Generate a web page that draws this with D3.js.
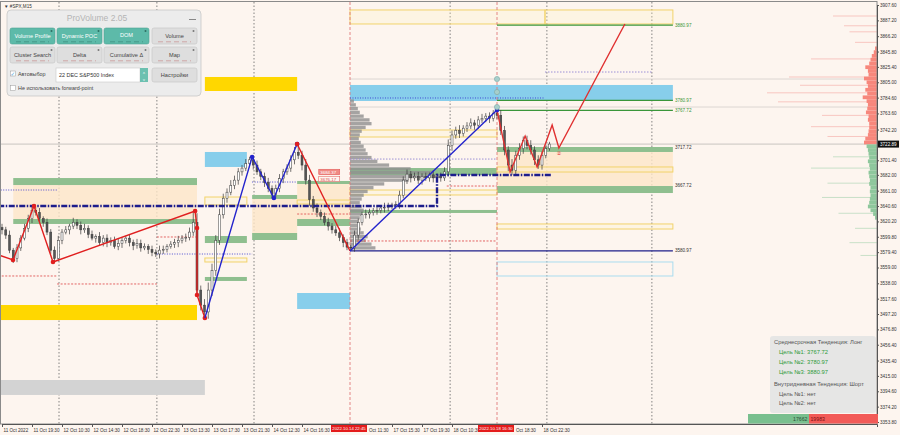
<!DOCTYPE html>
<html>
<head>
<meta charset="utf-8">
<script src="https://cdn.jsdelivr.net/npm/d3@7"></script>
<style>
  body { margin: 0; background: #fdf5ef; }
  svg { display: block; font-family: "Liberation Sans", "DejaVu Sans", sans-serif; }
</style>
</head>
<body>
<svg id="chart" width="900" height="435"></svg>
<script>
// ---- data (time in 30-min bars from 11 Oct 2022 15:30, prices in index points) ----
const closes = [
  3609,3602,3582,3571,3585,3598,3611,3624,3635,3632,
  3624,3619,3606,3582,3571,3595,3606,3609,3614,3619,
  3615,3609,3611,3603,3598,3600,3592,3598,3592,3595,
  3587,3591,3595,3598,3592,3588,3591,3585,3587,3583,
  3579,3577,3582,3583,3587,3590,3592,3595,3598,3599,
  3606,3619,3529,3509,3500,3529,3555,3595,3629,3651,
  3659,3668,3675,3686,3691,3697,3702,3695,3686,3680,
  3672,3664,3656,3664,3677,3686,3691,3702,3712,3708,
  3695,3675,3649,3638,3632,3627,3619,3614,3609,3605,
  3599,3592,3586,3585,3602,3619,3629,3630,3632,3634,
  3635,3638,3639,3640,3642,3643,3655,3675,3683,3678,
  3680,3675,3680,3678,3682,3678,3680,3678,3686,3721,
  3735,3741,3737,3744,3747,3751,3748,3755,3757,3760,
  3757,3764,3761,3741,3715,3695,3688,3708,3717,3728,
  3721,3715,3702,3695,3708,3717,3722.89
];
const wickHi = [
  5,4,6,3,5,4,6,5,5,4, 6,3,5,4,5,6,4,5,3,6, 4,5,6,4,5,3,6,4,5,4,
  5,6,4,3,5,4,6,5,4,3, 5,4,6,5,3,4,5,6,4,5, 6,15,12,6,8,10,9,7,8,6,
  5,7,6,5,4,6,4,5,6,4, 5,6,4,5,6,4,5,6,7,11, 6,8,7,5,6,4,5,6,4,5,
  6,4,5,3,6,5,4,6,5,4, 5,4,6,5,3,4,6,5,6,4, 5,6,4,5,3,6,4,5,6,8,
  6,5,7,4,5,6,4,5,6,4, 5,4,4,7,6,5,8,6,7,5, 6,7,5,6,5,4,3
];
const wickLo = [
  6,5,4,6,5,4,3,5,6,4, 5,6,4,5,6,4,5,3,6,4, 5,6,4,5,3,6,4,5,6,4,
  3,5,6,4,5,6,4,5,3,6, 5,4,6,5,4,3,5,6,4,5, 4,5,8,7,8,9,8,7,6,5,
  6,4,5,6,5,4,5,6,4,5, 6,5,5,4,5,6,4,5,6,5, 7,6,8,5,6,5,4,6,5,4,
  5,6,4,4,5,6,4,5,6,4, 5,4,6,5,4,5,6,4,5,6, 4,5,6,4,5,6,4,5,4,6,
  7,5,6,4,5,4,6,5,4,5, 6,4,5,6,7,8,6,5,6,7, 5,6,7,5,6,4,3
];
const currentPrice = 3722.89;

// ticks hidden under the red time markers carry no text; partly hidden ones keep the visible part
const xTickBars = [0,8,16,24,32,40,48,56,64,72,80,88,96,104,112,120,128,136,144];
const xTickLabels = ["11 Oct 2022","11 Oct 19:30","12 Oct 10:30","12 Oct 14:30","12 Oct 18:30",
  "12 Oct 22:30","13 Oct 13:30","13 Oct 17:30","13 Oct 21:30","14 Oct 12:30","14 Oct 16:30",
  "","Oct 11:30","17 Oct 15:30","17 Oct 19:30","18 Oct 10:30","",
  "Oct 18:30","18 Oct 22:30"];
const yTicks = [3907.60,3887.20,3866.20,3845.80,3825.40,3805.00,3784.60,3763.60,3742.20,
  3701.40,3682.00,3661.00,3640.60,3620.20,3599.80,3579.40,3559.00,3538.00,3517.60,3497.20,
  3476.80,3456.40,3435.40,3415.00,3394.60,3374.20,3353.80];

const markerBars = [92.8, 132];
const markerLabels = ["2022.10.14 22:45", "2022.10.18 16:30"];
const daySeparators = [15.2, 41.3, 67.2, 119.5, 145.3, 173.3];

// zones: [fromBar, toBar, topPrice, bottomPrice]
const greenZones = [
  [3,52,3677.8,3668.5],[3,52,3623.4,3616.8],[54.1,65.3,3600.8,3591.5],[54.1,65.3,3546.4,3541.1],
  [66.7,78.7,3655.3,3650],[66.7,78.7,3604.8,3595.5],[78.7,92.8,3673.9,3669.9],[78.7,92.8,3623.4,3614.1],
  [92.8,132,3691.1,3681.8],[92.8,132,3635.4,3631.4],[132,178.9,3719,3712.4],[132,178.9,3667.2,3657.9]
];
const beigeZones = [
  [3,52,3668.5,3623.4],[66.7,78.7,3650,3604.8],[78.7,92.8,3669.9,3623.4],[132,178.9,3712.4,3667.2]
];
const yellowBoxes = [
  [54.1,65.3,3652.6,3642],[54.1,65.3,3571.6,3566.3],[78.7,92.8,3648.6,3643.3],
  [92.8,132,3741.6,3732.3],[92.8,132,3661.9,3655.3],[132,178.9,3692.5,3685.8],
  [132,178.9,3616.8,3610.1],[92.8,144.8,3901,3882.4],[144.8,178.9,3901,3882.4]
];
const goldZones = [[54.1,78.7,3812,3793.4],[-1,52,3509.2,3489.2]];
const skyZones = [[54.1,65.3,3712.4,3692.5],[78.7,92.8,3525.1,3503.9],[92.8,178.9,3801.4,3780.1]];
const grayZones = [[-1,54.1,3409.6,3389.7]];
const skyBoxes = [[132,178.9,3566.3,3547.7]];

const targetLevels = [3880.97, 3780.97, 3767.72];
const zoneLevels = [3717.72, 3667.72, 3580.97];

// [fromBar, toBar, price]
const redDashed = [[-1,14.7,3547.7],[14.7,41.3,3537.1],[41.3,52,3599.5],[78.7,92.8,3630],
  [92.8,132,3594.2],[118.6,132,3667.2]];
const blueDotted = [[-1,14.7,3661.9],[41.3,66.7,3576.9],[66.7,78.7,3672.5],[92.8,144.8,3784.1]];
const purpleDotted = [[144.8,173.3,3818.6],[92.8,132,3703]];
const grayLevels = [[92.8,233.3,3809.3],[92.8,233.3,3772.1]];
const trendLine = [[-1,3640.7],[116,3640.7],[116,3681.8],[146.4,3681.8]];

const redZig = [[-0.5,3575],[2.93,3569],[8.53,3640.7],[13.6,3566.3],[51.5,3634],[52,3611.4],[52,3522.5],[54.1,3492]];
const redZig2 = [[78.7,3723],[92.8,3580.9]];
const blueZig = [[54.1,3492],[66.7,3705.7],[72.5,3651.3],[78.7,3723]];
const blueZig2 = [[92.8,3580.9],[132,3768]];
const forecast = [[132,3768],[135.5,3685.8],[139.5,3733.6],[142.7,3692.5],[146.7,3748.2],[148.5,3717.7],[166.1,3882.4]];
const pivots = [[132,3809.3],[132,3792],[132,3772.1]];

// session volume profile (started 14 Oct 22:45)
const vpLevels = [3780,3775,3770,3765,3760,3755,3750,3745,3740,3735,3730,3725,3720,3715,3710,3705,
  3700,3695,3690,3685,3680,3675,3670,3665,3660,3655,3650,3645,3640,3635,3630,3625,3620,3615,3610,
  3605,3600,3595,3590,3585];
const vpVolume = [4,6,8,10,14,20,22,16,12,10,9,11,14,16,18,22,28,40,62,85,92,60,35,24,18,14,12,10,
  12,14,12,10,8,9,11,14,18,16,22,26];

// contract profile on the right
const rpLevels = [3850,3845,3840,3835,3830,3825,3820,3815,3810,3805,3800,3795,3790,3785,3780,3775,
  3770,3765,3760,3755,3750,3745,3740,3735,3730,3725,3720,3715,3710,3705,3700,3695,3690,3685,3680,
  3675,3670,3665,3660,3655,3650,3645,3640,3635,3630,3625];
const rpVolume = [3,5,8,10,12,18,14,13,20,16,14,18,15,22,16,14,15,17,13,14,12,12,13,14,18,20,
  16,14,13,12,14,12,11,13,12,11,12,10,11,10,11,12,14,10,6,3];
const rpThinLevels = [3893,3880,3872,3858,3836,3812,3801,3791,3779,3761,3746,3733,3706,3691,3671,3652,3631,3611,3592,3575];
const rpThinVolume = [40,30,25,20,60,80,70,100,90,50,60,45,40,60,45,50,35,20,25,15];

const buyVolume = 17662, sellVolume = 19983;

const infoLines = ["Среднесрочная Тенденция: Лонг", "Цель №1: 3767.72", "Цель №2: 3780.97",
  "Цель №3: 3880.97", "Внутридневная Тенденция: Шорт", "Цель №1: нет", "Цель №2: нет"];

// ---- drawing ----
const svg = d3.select("#chart");
const plotRight = 877, axisY = 424;
const x = d3.scaleLinear().domain([0, 233.33]).range([2, plotRight]);
const y = d3.scaleLinear().domain([3907.6, 3353.8]).range([5, 422]);
const fmt = d3.format(".2f");

svg.append("rect").attr("width", 900).attr("height", 435).attr("fill", "#fdf5ef");

const plot = svg.append("g");

function zones(data, fill, stroke, op) {
  plot.append("g").selectAll("rect").data(data).enter().append("rect")
    .attr("x", d => x(d[0])).attr("y", d => y(d[2]))
    .attr("width", d => x(d[1]) - x(d[0])).attr("height", d => y(d[3]) - y(d[2]))
    .attr("fill", fill).attr("fill-opacity", op)
    .attr("stroke", stroke || "none").attr("stroke-width", 1);
}
function hlines(data, color, dash, w) {
  plot.append("g").selectAll("line").data(data).enter().append("line")
    .attr("x1", d => x(d[0])).attr("x2", d => x(d[1]))
    .attr("y1", d => y(d[2])).attr("y2", d => y(d[2]))
    .attr("stroke", color).attr("stroke-width", w || 1).attr("stroke-dasharray", dash);
}

// grid separators
plot.append("g").selectAll("line").data(daySeparators).enter().append("line")
  .attr("x1", d => x(d)).attr("x2", d => x(d)).attr("y1", 2).attr("y2", axisY)
  .attr("stroke", "#666").attr("stroke-width", 0.8).attr("stroke-dasharray", "1.5,2");

hlines([[-1, 233.3, currentPrice]], "#c9c4c0", null, 1);
hlines(grayLevels, "#dcd6d2", null, 1);

zones(beigeZones, "#fde6c8", null, 0.8);
zones(grayZones, "#d3d3d3", null, 1);
zones(goldZones, "#ffd700", null, 1);
zones(skyZones, "#87ceeb", null, 1);
zones(greenZones, "#8fbf8f", null, 1);
zones(yellowBoxes, "#fff3c0", "#f2d36b", 0.25);
zones(skyBoxes, "none", "#a9dcef", 1);

// right-hand profile
const rpScale = d3.scaleLinear().domain([0, 20]).range([0, 13]);
const rpThin = d3.scaleLinear().domain([0, 100]).range([0, 110]);
plot.append("g").selectAll("rect").data(rpThinLevels.map((p, i) => [p, rpThinVolume[i]])).enter().append("rect")
  .attr("x", d => plotRight - rpThin(d[1])).attr("y", d => y(d[0]) - 0.5)
  .attr("width", d => rpThin(d[1])).attr("height", 1)
  .attr("fill", d => d[0] > currentPrice ? "#f4a19a" : "#9fcfaa").attr("opacity", 0.55);
plot.append("g").selectAll("rect").data(rpLevels.map((p, i) => [p, rpVolume[i]])).enter().append("rect")
  .attr("x", d => plotRight - rpScale(d[1])).attr("y", d => y(d[0] + 2.5))
  .attr("width", d => rpScale(d[1])).attr("height", d => y(d[0] - 2.5) - y(d[0] + 2.5))
  .attr("fill", d => d[0] > currentPrice ? "#f7877c" : "#8ec79c");

// session volume profile
const vpScale = d3.scaleLinear().domain([0, 92]).range([0, 90]);
plot.append("g").selectAll("rect").data(vpLevels.map((p, i) => [p, vpVolume[i]])).enter().append("rect")
  .attr("x", x(92.8)).attr("y", d => y(d[0] + 2.2))
  .attr("width", d => vpScale(d[1])).attr("height", d => y(d[0] - 2.2) - y(d[0] + 2.2))
  .attr("fill", "#8e8e8e").attr("opacity", 0.8);

// marker verticals
plot.append("g").selectAll("line").data(markerBars).enter().append("line")
  .attr("x1", d => x(d)).attr("x2", d => x(d)).attr("y1", 2).attr("y2", axisY)
  .attr("stroke", "#e07a7a").attr("stroke-width", 0.9).attr("stroke-dasharray", "3,2");

hlines(redDashed, "#e05555", "2,1.5", 0.9);
hlines(blueDotted, "#3b3bd0", "1,1.5", 0.9);
hlines(purpleDotted, "#9c90d6", "1.5,1.5", 1);

// target lines
hlines(targetLevels.map(p => [132, 178.9, p]), "#3a963a", null, 1.3);
hlines([[92.8, 178.9, 3580.97]], "#1e1e8a", null, 1.3);
plot.append("g").selectAll("text").data(targetLevels.concat(zoneLevels)).enter().append("text")
  .attr("x", x(178.9) + 2).attr("y", d => y(d) + 1.5)
  .attr("font-size", 4.6).attr("fill", d => targetLevels.includes(d) ? "#3a963a" : "#333")
  .text(d => fmt(d));

// candles
const bars = closes.map((c, i) => {
  const o = i ? closes[i - 1] : c + 3;
  return { i, o, c, h: Math.max(o, c) + wickHi[i], l: Math.min(o, c) - wickLo[i] };
});
const cg = plot.append("g");
cg.selectAll("line").data(bars).enter().append("line")
  .attr("x1", d => x(d.i)).attr("x2", d => x(d.i))
  .attr("y1", d => y(d.h)).attr("y2", d => y(d.l))
  .attr("stroke", "#3a3a3a").attr("stroke-width", 0.7);
cg.selectAll("rect").data(bars).enter().append("rect")
  .attr("x", d => x(d.i) - 1).attr("width", 2)
  .attr("y", d => y(Math.max(d.o, d.c))).attr("height", d => Math.max(0.6, Math.abs(y(d.o) - y(d.c))))
  .attr("fill", d => d.c >= d.o ? "#ffffff" : "#555").attr("stroke", "#3a3a3a").attr("stroke-width", 0.5);

// navy trend line
const line = d3.line().x(d => x(d[0])).y(d => y(d[1]));
plot.append("path").attr("d", line(trendLine)).attr("fill", "none")
  .attr("stroke", "#1d1d8c").attr("stroke-width", 2.4).attr("stroke-dasharray", "6,1.5,1.5,1.5");

// zigzags
function zig(pts, color, dots) {
  plot.append("path").attr("d", line(pts)).attr("fill", "none").attr("stroke", color).attr("stroke-width", 1.4);
  if (dots) plot.append("g").selectAll("circle").data(pts.slice(1)).enter().append("circle")
    .attr("cx", d => x(d[0])).attr("cy", d => y(d[1])).attr("r", 2.3).attr("fill", color);
}
zig(forecast, "#e03030", false);
zig(redZig, "#e01f1f", true);
zig(redZig2, "#e01f1f", false);
zig(blueZig, "#2323cc", true);
zig(blueZig2, "#2323cc", true);
plot.append("g").selectAll("circle").data([redZig2[0]]).enter().append("circle")
  .attr("cx", d => x(d[0])).attr("cy", d => y(d[1])).attr("r", 2.3).attr("fill", "#e01f1f");
plot.append("g").selectAll("circle").data(pivots).enter().append("circle")
  .attr("cx", d => x(d[0])).attr("cy", d => y(d[1])).attr("r", 2.6)
  .attr("fill", "#a7cfcb").attr("stroke", "#7eaaa6").attr("stroke-width", 0.6);
plot.append("text").attr("x", x(148.5)).attr("y", y(3717.7) + 7).attr("font-size", 5)
  .attr("fill", "#e03030").attr("text-anchor", "middle").text("②");

// small price tags
const tags = [[85, 3685.5, "3684.37"], [85, 3676.2, "3676.17"]];
tags.forEach((t, k) => {
  const g = plot.append("g").attr("transform", `translate(${x(t[0]) - 2},${y(t[1]) - 3})`);
  g.append("rect").attr("width", 21).attr("height", 5.5)
    .attr("fill", k ? "#fdf5ef" : "#f08a84").attr("stroke", "#e05050").attr("stroke-width", 0.5);
  g.append("text").attr("x", 1.5).attr("y", 4.4).attr("font-size", 4.4)
    .attr("fill", k ? "#e05050" : "#fff").text(t[2]);
});

// frame
svg.append("rect").attr("x", 0.5).attr("y", 1.5).attr("width", plotRight - 0.5).attr("height", axisY - 1.5)
  .attr("fill", "none").attr("stroke", "#8a8a8a").attr("stroke-width", 1);
svg.append("text").attr("x", 4).attr("y", 7.5).attr("font-size", 4.6).attr("fill", "#333").text("▼ #SPX,M15");

// axes
const markerLeft = b => x(b) - 19, markerW = 36;
const xAxis = svg.append("g").attr("transform", `translate(0,${axisY})`)
  .call(d3.axisBottom(x).tickValues(xTickBars).tickSize(3).tickFormat((d, i) => xTickLabels[i]));
xAxis.select(".domain").attr("stroke", "#555");
xAxis.selectAll(".tick line").attr("stroke", "#555");
xAxis.selectAll("text").attr("text-anchor", "start").attr("y", 5)
  .attr("font-size", 4.6).attr("fill", "#333")
  .attr("x", d => {
    // labels partly covered by a time marker start right after it
    const px = x(d);
    const hit = markerBars.find(b => px > markerLeft(b) && px < markerLeft(b) + markerW);
    return hit === undefined ? 1 : markerLeft(hit) + markerW - px + 1.5;
  });

const yAxis = svg.append("g").attr("transform", `translate(${plotRight},0)`)
  .call(d3.axisRight(y).tickValues(yTicks).tickSize(2).tickFormat(fmt));
yAxis.select(".domain").attr("stroke", "#555");
yAxis.selectAll(".tick line").attr("stroke", "#555");
yAxis.selectAll("text").attr("x", 3).attr("font-size", 4.6).attr("fill", "#333");

// current price tag
svg.append("rect").attr("x", plotRight + 1).attr("y", y(currentPrice) - 3.5).attr("width", 21).attr("height", 7).attr("fill", "#111");
svg.append("text").attr("x", plotRight + 3).attr("y", y(currentPrice) + 1.6).attr("font-size", 4.6)
  .attr("fill", "#fff").text(fmt(currentPrice));

// time markers on x axis
markerBars.forEach((b, i) => {
  svg.append("rect").attr("x", markerLeft(b)).attr("y", axisY + 1).attr("width", markerW).attr("height", 7).attr("fill", "#e41b1b");
  svg.append("text").attr("x", markerLeft(b) + markerW / 2).attr("y", axisY + 6.3).attr("text-anchor", "middle")
    .attr("font-size", 4.3).attr("fill", "#fff").text(markerLabels[i]);
});

// buy / sell volume bar
const vb = d3.scaleLinear().domain([0, buyVolume + sellVolume]).range([0, 130]);
svg.append("rect").attr("x", 748).attr("y", 414).attr("width", vb(buyVolume)).attr("height", 9.5).attr("fill", "#79bf8e");
svg.append("rect").attr("x", 748 + vb(buyVolume)).attr("y", 414).attr("width", vb(sellVolume)).attr("height", 9.5).attr("fill", "#f25a57");
svg.append("text").attr("x", 748 + vb(buyVolume) - 1.5).attr("y", 420.8).attr("text-anchor", "end")
  .attr("font-size", 5.2).attr("fill", "#2d4f36").text(buyVolume);
svg.append("text").attr("x", 748 + vb(buyVolume) + 1.5).attr("y", 420.8)
  .attr("font-size", 5.2).attr("fill", "#7a1010").text(sellVolume);

// trend info panel
svg.append("rect").attr("x", 770).attr("y", 336).attr("width", 106).attr("height", 77).attr("rx", 3)
  .attr("fill", "#e4e4e4").attr("opacity", 0.92);
const infoY = [344, 353.5, 363.5, 373.5, 386, 395.5, 405];
svg.append("g").selectAll("text").data(infoLines).enter().append("text")
  .attr("x", (d, i) => (i === 0 || i === 4) ? 774 : 779).attr("y", (d, i) => infoY[i])
  .attr("font-size", 5.8)
  .attr("fill", (d, i) => (i >= 1 && i <= 3) ? "#2f9a3a" : "#555").text(d => d);

// ---- ProVolume panel ----
const pnl = svg.append("g");
pnl.append("rect").attr("x", 7).attr("y", 10).attr("width", 194).attr("height", 86).attr("rx", 4)
  .attr("fill", "#ececec").attr("stroke", "#c8c8c8").attr("stroke-width", 0.8);
pnl.append("text").attr("x", 97).attr("y", 20.5).attr("text-anchor", "middle").attr("font-size", 8.5)
  .attr("fill", "#b4b4b4").text("ProVolume 2.05");
pnl.append("line").attr("x1", 189).attr("x2", 196).attr("y1", 19.5).attr("y2", 19.5).attr("stroke", "#888").attr("stroke-width", 1);

const buttons = [["Volume Profile", 1], ["Dynamic POC", 1], ["DOM", 1], ["Volume", 0],
                 ["Cluster Search", 0], ["Delta", 0], ["Cumulative Δ", 0], ["Map", 0]];
const bx = [10, 57, 104, 152];
buttons.forEach((b, i) => {
  const gx = bx[i % 4], gy = i < 4 ? 28 : 47;
  pnl.append("rect").attr("x", gx).attr("y", gy).attr("width", 45).attr("height", 16).attr("rx", 2)
    .attr("fill", b[1] ? "#5dbaa9" : "#dedede").attr("stroke", b[1] ? "#4fa595" : "#c4c4c4").attr("stroke-width", 0.6);
  pnl.append("text").attr("x", gx + 22.5).attr("y", gy + (b[0] === "DOM" ? 8.5 : 10))
    .attr("text-anchor", "middle").attr("font-size", 5.6)
    .attr("fill", b[1] ? "#fff" : "#444").text(b[0]);
  pnl.append("circle").attr("cx", gx + 41.5).attr("cy", gy + 3).attr("r", 1).attr("fill", b[1] ? "#2f6f64" : "#777");
  pnl.append("line").attr("x1", gx + 6).attr("x2", gx + 39).attr("y1", gy + 13.8).attr("y2", gy + 13.8)
    .attr("stroke", b[1] ? "#3f8f80" : "#c99").attr("stroke-width", 0.8).attr("stroke-dasharray", "5,3");
});
// row 3
pnl.append("rect").attr("x", 10.5).attr("y", 71).attr("width", 5).attr("height", 5).attr("fill", "#fff").attr("stroke", "#999").attr("stroke-width", 0.5);
pnl.append("text").attr("x", 10.6).attr("y", 75.5).attr("font-size", 5.5).attr("fill", "#4aa0d8").text("✓");
pnl.append("text").attr("x", 18).attr("y", 75.8).attr("font-size", 5.4).attr("fill", "#444").text("Автовыбор");
pnl.append("rect").attr("x", 56).attr("y", 68).attr("width", 84).attr("height", 14).attr("fill", "#fff").attr("stroke", "#c8c8c8").attr("stroke-width", 0.6);
pnl.append("text").attr("x", 59).attr("y", 76.8).attr("font-size", 5.4).attr("fill", "#333").text("22 DEC S&P500 Index");
pnl.append("rect").attr("x", 140).attr("y", 68).attr("width", 8).attr("height", 14).attr("fill", "#6cc0b0");
pnl.append("text").attr("x", 144).attr("y", 74).attr("text-anchor", "middle").attr("font-size", 4).attr("fill", "#fff").text("˄");
pnl.append("text").attr("x", 144).attr("y", 80.5).attr("text-anchor", "middle").attr("font-size", 4).attr("fill", "#fff").text("˅");
pnl.append("rect").attr("x", 152).attr("y", 68).attr("width", 45).attr("height", 14).attr("rx", 2)
  .attr("fill", "#dedede").attr("stroke", "#c4c4c4").attr("stroke-width", 0.6);
pnl.append("text").attr("x", 174.5).attr("y", 77).attr("text-anchor", "middle").attr("font-size", 5.6).attr("fill", "#444").text("Настройки");
// row 4
pnl.append("rect").attr("x", 10.5).attr("y", 85.5).attr("width", 5).attr("height", 5).attr("fill", "#fff").attr("stroke", "#999").attr("stroke-width", 0.5);
pnl.append("text").attr("x", 18).attr("y", 90).attr("font-size", 5.4).attr("fill", "#444").text("Не использовать forward-point");
</script>
</body>
</html>
